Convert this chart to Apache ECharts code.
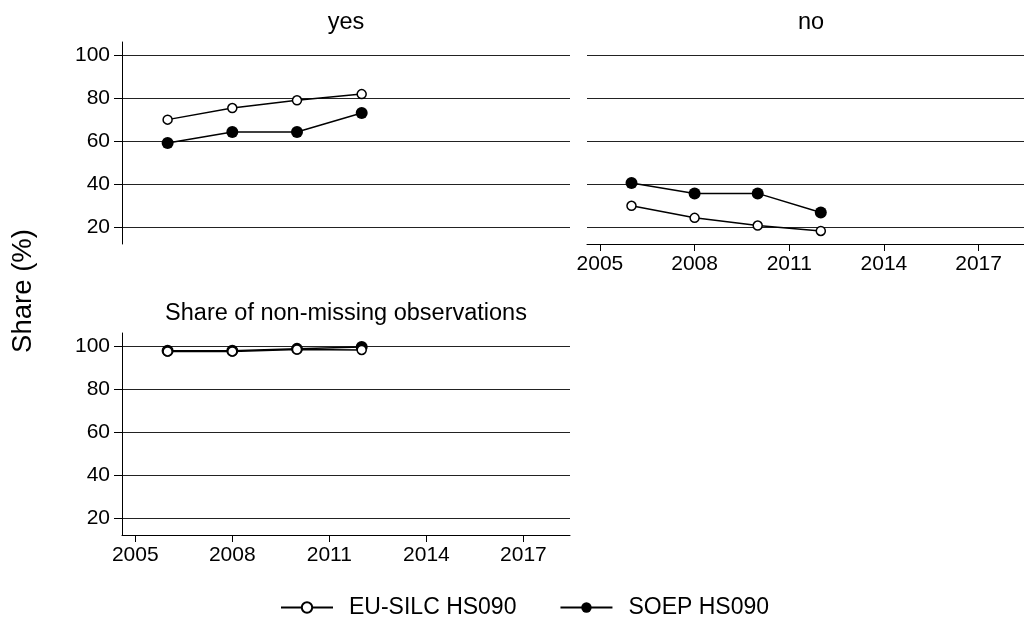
<!DOCTYPE html>
<html>
<head>
<meta charset="utf-8">
<script src="https://cdn.jsdelivr.net/npm/echarts@6/dist/echarts.min.js"></script>
<style>
html,body{margin:0;padding:0;background:#fff;}
#chart{width:1024px;height:625px;}
</style>
</head>
<body>
<div id="chart"></div>
<script>
// ---- data ----
var years = [2006, 2008, 2010, 2012];
var yesEU = [70.1, 75.5, 79.1, 82.0];
var yesSOEP = [59.2, 64.3, 64.3, 73.2];
var noEU = [29.9, 24.3, 20.7, 18.2];
var noSOEP = [40.6, 35.7, 35.7, 26.8];
var nmEU = [97.7, 97.7, 98.6, 98.4];
var nmSOEP = [98.0, 98.0, 98.9, 99.8];
var xTicks = [2005, 2008, 2011, 2014, 2017];
var yTicks = [20, 40, 60, 80, 100];
var panelTitles = ['yes', 'no', 'Share of non-missing observations'];
var seriesNames = ['EU-SILC HS090', 'SOEP HS090'];
var yTitle = 'Share (%)';

function pairs(xs, ys) { return xs.map(function (x, i) { return [x, ys[i]]; }); }

var FONT = 'Liberation Sans, Arial, sans-serif';
var chart = echarts.init(document.getElementById('chart'), null, {renderer: 'canvas'});

var grids = [
  {left: 122, top: 42, width: 448, height: 202},
  {left: 587, top: 42, width: 448, height: 202},
  {left: 122, top: 333, width: 448, height: 202}
];

function xAxis(i, show) {
  return {
    type: 'value', gridIndex: i, min: 2004.59, max: 2018.44,
    axisLine: {show: show, onZero: false, lineStyle: {color: '#000', width: 1}},
    axisTick: {show: show, customValues: xTicks, length: 7, lineStyle: {color: '#000', width: 1}},
    axisLabel: {show: show, customValues: xTicks, margin: 10, color: '#000', fontSize: 21, fontFamily: FONT,
      formatter: function (v) { return String(v); }},
    splitLine: {show: false}
  };
}
function yAxis(i, show) {
  return {
    type: 'value', gridIndex: i, min: 12.1, max: 106.3,
    axisLine: {show: show, onZero: false, lineStyle: {color: '#000', width: 1}},
    axisTick: {show: show, customValues: yTicks, length: 8, lineStyle: {color: '#000', width: 1}},
    axisLabel: {show: show, customValues: yTicks, margin: 12, color: '#000', fontSize: 21, fontFamily: FONT},
    splitLine: {show: true, customValues: yTicks, lineStyle: {color: '#222', width: 1}}
  };
}

function euSeries(idx, data) {
  return {
    name: seriesNames[0], type: 'line', xAxisIndex: idx, yAxisIndex: idx,
    data: pairs(years, data), symbol: 'circle', symbolSize: 9, z: 4,
    lineStyle: {color: '#000', width: 1.5},
    itemStyle: {color: '#fff', borderColor: '#000', borderWidth: 1.5}
  };
}
function soepSeries(idx, data) {
  return {
    name: seriesNames[1], type: 'line', xAxisIndex: idx, yAxisIndex: idx,
    data: pairs(years, data), symbol: 'circle', symbolSize: 12, z: 3,
    lineStyle: {color: '#000', width: 1.5},
    itemStyle: {color: '#000', borderColor: '#000', borderWidth: 0}
  };
}

var titleStyle = {fontSize: 23.5, fontWeight: 'normal', color: '#000', fontFamily: FONT};
var option = {
  animation: false,
  backgroundColor: '#fff',
  title: [
    {text: panelTitles[0], left: 346, top: 11, textAlign: 'center', padding: 0, textStyle: titleStyle},
    {text: panelTitles[1], left: 811, top: 11, textAlign: 'center', padding: 0, textStyle: titleStyle},
    {text: panelTitles[2], left: 346, top: 302, textAlign: 'center', padding: 0, textStyle: titleStyle}
  ],
  legend: {
    data: seriesNames, left: 280, top: 596, padding: 0,
    itemWidth: 52, itemHeight: 13, itemGap: 43,
    textStyle: {fontSize: 23, color: '#000', fontFamily: FONT, padding: [0, 0, 0, 11]}
  },
  graphic: [{
    type: 'text', x: 23, y: 291, rotation: Math.PI / 2,
    style: {text: yTitle, fontSize: 27.5, fontFamily: FONT, fill: '#000', textAlign: 'center', textVerticalAlign: 'middle'}
  }],
  grid: grids,
  xAxis: [xAxis(0, false), xAxis(1, true), xAxis(2, true)],
  yAxis: [yAxis(0, true), yAxis(1, false), yAxis(2, true)],
  series: [
    euSeries(0, yesEU), soepSeries(0, yesSOEP),
    euSeries(1, noEU), soepSeries(1, noSOEP),
    euSeries(2, nmEU), soepSeries(2, nmSOEP)
  ]
};
chart.setOption(option);
</script>
</body>
</html>
